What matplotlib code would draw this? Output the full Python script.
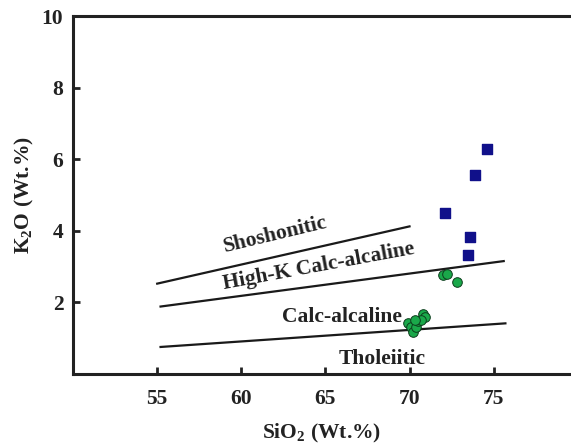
import matplotlib.pyplot as plt

plt.rcParams['font.family'] = ['Liberation Serif', 'DejaVu Serif']
plt.rcParams['font.weight'] = 'bold'
plt.rcParams['mathtext.fontset'] = 'custom'
plt.rcParams['mathtext.rm'] = 'Liberation Serif:bold'
plt.rcParams['mathtext.it'] = 'Liberation Serif:bold'
plt.rcParams['mathtext.bf'] = 'Liberation Serif:bold'

# group 1: squares
sq_sio2 = [74.6, 73.9, 72.1, 73.6, 73.5]
sq_k2o = [6.28, 5.56, 4.50, 3.83, 3.33]

# group 2: circles
ci_sio2 = [72.0, 72.2, 72.8, 69.9, 70.1, 70.2, 70.4, 70.5, 70.8, 70.9, 70.7, 70.3]
ci_k2o = [2.77, 2.80, 2.57, 1.42, 1.32, 1.17, 1.32, 1.47, 1.66, 1.58, 1.49, 1.49]

# boundary lines (Peccerillo & Taylor style)
sho_x = [55.0, 70.0]
sho_y = [2.52, 4.12]
hk_x = [55.2, 75.6]
hk_y = [1.88, 3.15]
th_x = [55.2, 75.7]
th_y = [0.75, 1.41]

xticks = [55, 60, 65, 70, 75]
yticks = [2, 4, 6, 8, 10]

fig = plt.figure(figsize=(5.71, 4.45), dpi=100)
ax = fig.add_axes([0.128, 0.16, 0.872, 0.804])

for xs, ys in [(sho_x, sho_y), (hk_x, hk_y), (th_x, th_y)]:
    ax.plot(xs, ys, color='#1a1a1a', lw=1.6)

ax.scatter(sq_sio2, sq_k2o, marker='s', s=46, color='#10108a', edgecolors='#10108a', zorder=3)
ax.scatter(ci_sio2, ci_k2o, marker='o', s=48, color='#1aa84a', edgecolors='#0d3d1d', linewidths=0.7, zorder=3)

txt = dict(fontsize=15.5, fontweight='bold', color='#222222', ha='center', va='center', rotation_mode='anchor')
ax.text(62.0, 3.89, 'Shoshonitic', rotation=13.5, **txt)
ax.text(64.6, 3.0, 'High-K Calc-alcaline', rotation=10.5, **txt)
ax.text(66.0, 1.60, 'Calc-alcaline', rotation=0, **txt)
ax.text(68.4, 0.40, 'Tholeiitic', rotation=0, **txt)

ax.set_xlim(50, 79.6)
ax.set_ylim(0, 10)
ax.set_xticks(xticks)
ax.set_yticks(yticks)
ax.tick_params(direction='in', length=5, width=2, labelsize=15.5, colors='#222222')
ax.tick_params(axis='x', pad=11)
ax.tick_params(axis='y', pad=7)
for s in ['left', 'bottom', 'top']:
    ax.spines[s].set_linewidth(2.2)
    ax.spines[s].set_color('#222222')
ax.spines['right'].set_visible(False)

ax.set_xlabel(r'SiO$_\mathrm{2}$ (Wt.%)', fontsize=15.5, fontweight='bold', labelpad=9, color='#222222')
ax.set_ylabel(r'K$_\mathrm{2}$O (Wt.%)', fontsize=15.5, fontweight='bold', labelpad=4, color='#222222')

plt.savefig('out.png', dpi=100)
